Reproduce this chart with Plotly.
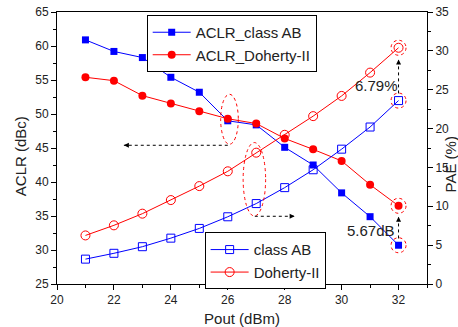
import plotly.graph_objects as go

pout = [21, 22, 23, 24, 25, 26, 27, 28, 29, 30, 31, 32]
aclr_ab = [60.9, 59.2, 58.3, 55.4, 53.2, 49.0, 48.4, 45.1, 42.5, 38.4, 34.9, 30.7]
aclr_doh = [55.4, 54.9, 52.7, 51.55, 50.4, 49.3, 48.6, 46.4, 44.8, 43.1, 39.6, 36.5]
pae_ab = [3.2, 3.95, 4.8, 5.9, 7.15, 8.65, 10.35, 12.4, 14.7, 17.35, 20.2, 23.6]
pae_doh = [6.25, 7.55, 9.05, 10.8, 12.6, 14.5, 16.9, 19.2, 21.6, 24.2, 27.2, 30.4]

BLUE = "#0000ff"
RED = "#ff0000"
FONT = "Liberation Sans"
TXT = "#222222"

fig = go.Figure()
fig.add_trace(go.Scatter(x=pout, y=aclr_ab, name="ACLR_class AB", mode="lines+markers",
                         line=dict(color=BLUE, width=1),
                         marker=dict(symbol="square", size=7, color=BLUE), legend="legend"))
fig.add_trace(go.Scatter(x=pout, y=aclr_doh, name="ACLR_Doherty-II", mode="lines+markers",
                         line=dict(color=RED, width=1),
                         marker=dict(symbol="circle", size=8, color=RED), legend="legend"))
fig.add_trace(go.Scatter(x=pout, y=pae_ab, name="class AB", mode="lines+markers", yaxis="y2",
                         line=dict(color=BLUE, width=1),
                         marker=dict(symbol="square-open", size=8, color=BLUE, line=dict(width=1)),
                         legend="legend2"))
fig.add_trace(go.Scatter(x=pout, y=pae_doh, name="Doherty-II", mode="lines+markers", yaxis="y2",
                         line=dict(color=RED, width=1),
                         marker=dict(symbol="circle-open", size=9, color=RED, line=dict(width=1)),
                         legend="legend2"))

shapes = []
# dotted ellipses
shapes.append(dict(type="circle", xref="x", yref="y", x0=25.75, x1=26.37, y0=45.55, y1=52.9,
                   line=dict(color=RED, width=1, dash="dot")))
shapes.append(dict(type="circle", xref="x", yref="y", x0=26.54, x1=27.33, y0=35.0, y1=45.8,
                   line=dict(color=RED, width=1, dash="dot")))
# dotted circles around end points
for yv, yr in [(aclr_ab[-1], "y"), (aclr_doh[-1], "y"), (pae_ab[-1], "y2"), (pae_doh[-1], "y2")]:
    shapes.append(dict(type="circle", xref="x", yref=yr, xsizemode="pixel", ysizemode="pixel",
                       xanchor=pout[-1], yanchor=yv, x0=-7.5, x1=7.5, y0=-7.5, y1=7.5,
                       line=dict(color=RED, width=1, dash="dot")))
# dotted arrow lines
arrows = [
    (26.0, 45.4, 22.35, 45.4, 6, 0),
    (26.95, 34.96, 28.35, 34.96, -6, 0),
    (32, 53.03, 32, 58.0, 0, 6),
    (32, 31.7, 32, 34.9, 0, 6),
]
annotations = []
for x0, y0, x1, y1, ax, ay in arrows:
    shapes.append(dict(type="line", xref="x", yref="y", x0=x0, y0=y0, x1=x1, y1=y1,
                       line=dict(color="black", width=1, dash="dot")))
    annotations.append(dict(x=x1, y=y1, xref="x", yref="y", ax=ax, ay=ay, text="",
                            showarrow=True, arrowhead=2, arrowsize=1, arrowwidth=1,
                            arrowcolor="black"))

annotations.append(dict(x=31.22, y=54.25, xref="x", yref="y", text="6.79%", showarrow=False,
                        font=dict(family=FONT, size=15, color=TXT)))
annotations.append(dict(x=31.03, y=32.9, xref="x", yref="y", text="5.67dB", showarrow=False,
                        font=dict(family=FONT, size=15, color=TXT)))
# axis titles
annotations.append(dict(x=-0.1, y=0.47, xref="paper", yref="paper", text="ACLR (dBc)",
                        textangle=-90, showarrow=False, xanchor="center", yanchor="middle",
                        font=dict(family=FONT, size=15, color=TXT)))
annotations.append(dict(x=1.0645, y=0.439, xref="paper", yref="paper", text="PAE (%)",
                        textangle=-90, showarrow=False, xanchor="center", yanchor="middle",
                        font=dict(family=FONT, size=15, color=TXT)))

axis_common = dict(showline=True, linecolor="black", linewidth=1, ticks="outside",
                   ticklen=5, tickcolor="black", showgrid=False, zeroline=False,
                   automargin=False,
                   tickfont=dict(family=FONT, size=12, color=TXT))

fig.update_layout(
    width=458, height=327,
    margin=dict(l=57, r=31, t=12, b=43),
    plot_bgcolor="white", paper_bgcolor="white",
    font=dict(family=FONT, color=TXT),
    xaxis=dict(range=[20, 33], tick0=20, dtick=2, mirror=True,
               minor=dict(ticks="outside", ticklen=3, dtick=1, tickcolor="black"),
               title=dict(text="Pout (dBm)", font=dict(family=FONT, size=15), standoff=8),
               **axis_common),
    yaxis=dict(range=[25, 65], tick0=25, dtick=5,
               minor=dict(ticks="outside", ticklen=3, dtick=2.5, tickcolor="black"),
               **axis_common),
    yaxis2=dict(range=[0, 35], tick0=0, dtick=5, overlaying="y", side="right",
                minor=dict(ticks="outside", ticklen=3, dtick=2.5, tickcolor="black"),
                **axis_common),
    legend=dict(x=0.2424, y=0.989, xanchor="left", yanchor="top",
                bordercolor="black", borderwidth=1, bgcolor="white",
                font=dict(family=FONT, size=15), tracegroupgap=0, itemwidth=38),
    legend2=dict(x=0.399, y=0.19, xanchor="left", yanchor="top",
                 bordercolor="black", borderwidth=1, bgcolor="white",
                 font=dict(family=FONT, size=15), tracegroupgap=0, itemwidth=38),
    shapes=shapes,
    annotations=annotations,
    showlegend=True,
)

fig.write_html("out.html")
